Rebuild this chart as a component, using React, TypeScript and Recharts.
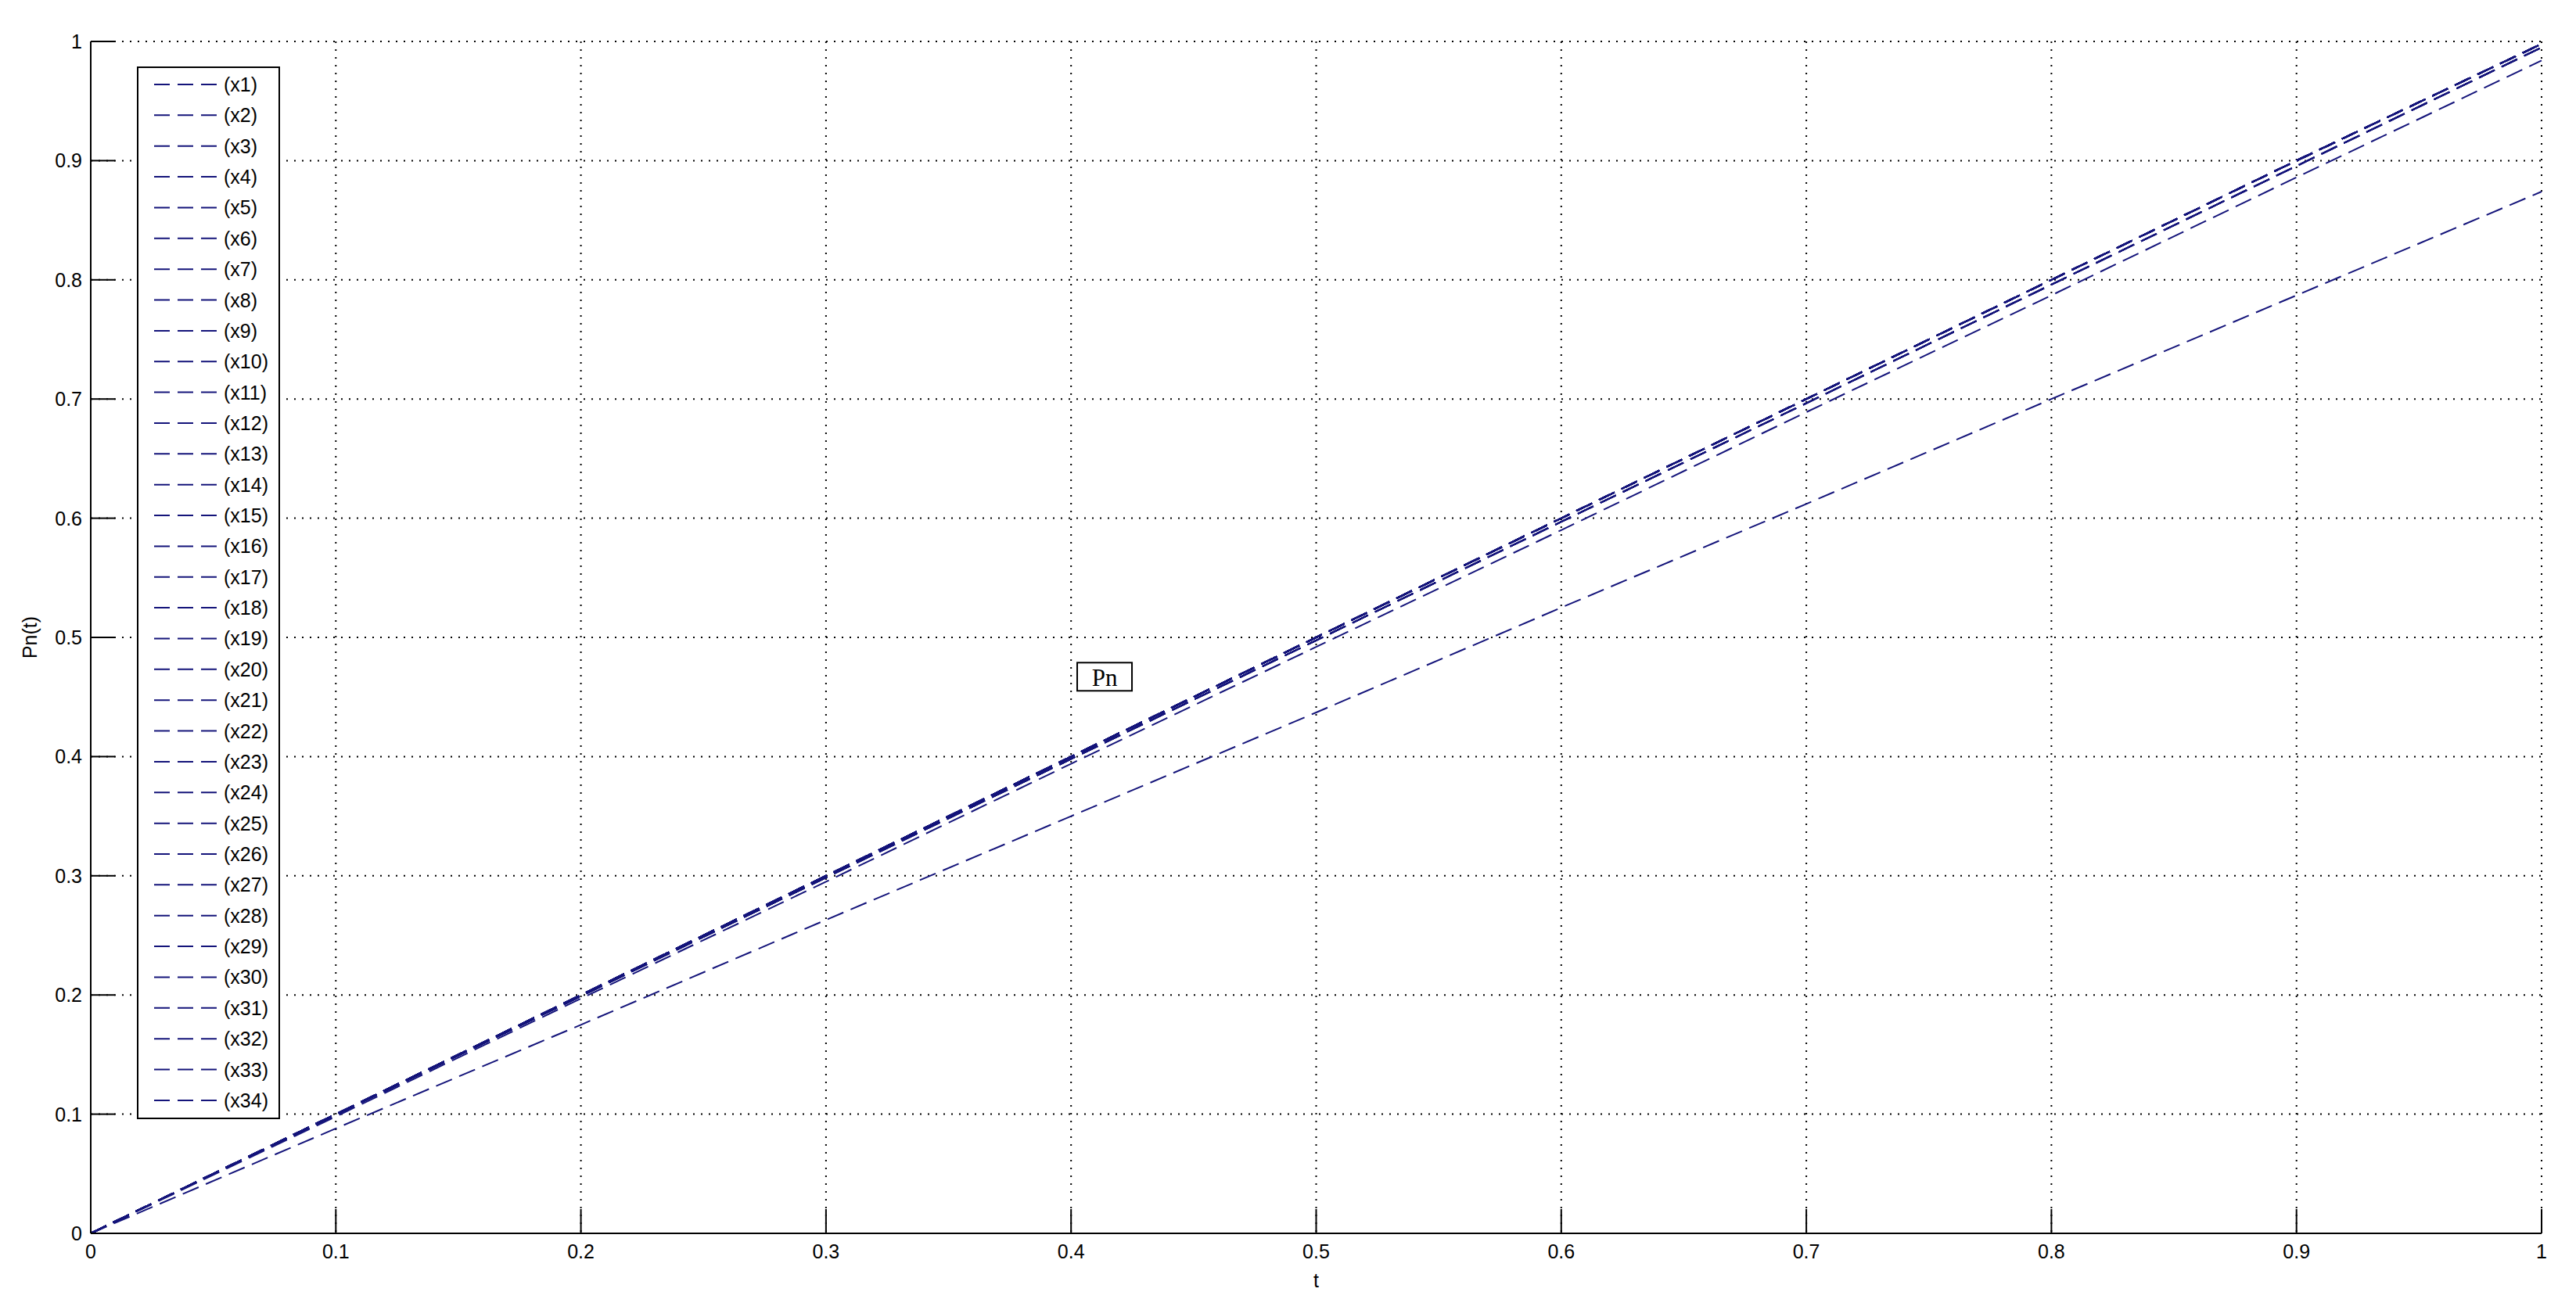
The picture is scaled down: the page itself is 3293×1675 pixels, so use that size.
import { LineChart, Line, XAxis, YAxis, CartesianGrid, Legend, ReferenceDot } from 'recharts';

// sample times and the four distinct Pn(t) curves
const tValues = [0, 0.1, 0.2, 0.3, 0.4, 0.5, 0.6, 0.7, 0.8, 0.9, 1];
const upperPn = [0, 0.1, 0.2, 0.3, 0.4, 0.5, 0.6, 0.7, 0.8, 0.9, 0.998];
const nearPn = [0, 0.0995, 0.199, 0.2985, 0.398, 0.4975, 0.597, 0.6965, 0.796, 0.8955, 0.995];
const midPn = [0, 0.098, 0.197, 0.295, 0.394, 0.492, 0.59, 0.689, 0.787, 0.886, 0.984];
const lowPn = [0, 0.088, 0.175, 0.263, 0.35, 0.437, 0.525, 0.612, 0.7, 0.787, 0.874];

// which curve each legend entry (x1..x34) follows
const seriesCurve = [
  'upper', 'upper', 'near', 'upper', 'upper', 'upper', 'near', 'upper', 'upper', 'upper',
  'upper', 'near', 'upper', 'upper', 'upper', 'upper', 'near', 'upper', 'upper', 'upper',
  'upper', 'upper', 'near', 'upper', 'upper', 'upper', 'upper', 'upper', 'near', 'upper',
  'upper', 'mid', 'upper', 'low',
];

const xTicks = [0, 0.1, 0.2, 0.3, 0.4, 0.5, 0.6, 0.7, 0.8, 0.9, 1];
const yTicks = [0, 0.1, 0.2, 0.3, 0.4, 0.5, 0.6, 0.7, 0.8, 0.9, 1];

const annotation = { t: 0.4025, y: 0.467, text: 'Pn' };

const curves: Record<string, number[]> = { upper: upperPn, near: nearPn, mid: midPn, low: lowPn };
const seriesNames = seriesCurve.map((_, i) => `x${i + 1}`);

const rows = tValues.map((t, i) => {
  const row: Record<string, number> = { t };
  seriesCurve.forEach((c, s) => {
    row[seriesNames[s]] = curves[c][i];
  });
  return row;
});

const LINE_COLOR = '#14147a';
const FONT = '"Liberation Sans", Arial, sans-serif';

const XTick = ({ x, y, payload }: any) => (
  <g>
    <line x1={x} x2={x} y1={y} y2={y - 31} stroke='#000' strokeWidth={2} />
    <text x={x} y={y + 23} textAnchor='middle' dominantBaseline='central' fontSize={25} fontFamily={FONT} fill='#000'>
      {String(payload.value)}
    </text>
  </g>
);

const YTick = ({ x, y, payload }: any) => (
  <g>
    <line x1={x} x2={x + 31} y1={y} y2={y} stroke='#000' strokeWidth={2} />
    <text x={x - 11} y={y} textAnchor='end' dominantBaseline='central' fontSize={25} fontFamily={FONT} fill='#000'>
      {String(payload.value)}
    </text>
  </g>
);

const LegendBox = ({ payload }: any) => {
  // keep the plotting order x1..x34, not the alphabetical one
  const items = [...(payload || [])].sort(
    (a: any, b: any) => seriesNames.indexOf(a.value) - seriesNames.indexOf(b.value)
  );
  return (
    <svg width={183} height={1346} style={{ display: 'block' }}>
      <rect x={1} y={1} width={181} height={1344} fill='#fff' stroke='#000' strokeWidth={2} />
      {items.map((item: any, i: number) => {
        const cy = 23 + i * 39.36;
        return (
          <g key={i}>
            <line x1={22} x2={102} y1={cy} y2={cy} stroke={LINE_COLOR} strokeWidth={2} strokeDasharray='20 10' />
            <text x={111} y={cy} dominantBaseline='central' fontSize={25} fontFamily={FONT} fill='#000'>
              {`(${item.value})`}
            </text>
          </g>
        );
      })}
    </svg>
  );
};

const PnLabel = ({ cx, cy }: any) => (
  <g>
    <rect x={cx} y={cy - 18} width={70} height={36} fill='#fff' stroke='#000' strokeWidth={2} />
    <text x={cx + 35} y={cy + 1} textAnchor='middle' dominantBaseline='central' fontSize={31} fontFamily='"Liberation Serif", "Times New Roman", serif' fill='#000'>
      {annotation.text}
    </text>
  </g>
);

const App = () => {
  return (
    <div style={{ width: 3277, height: 1659, background: '#fff' }}>
      <LineChart width={3277} height={1659} data={rows} margin={{ top: 45, right: 36, bottom: 60, left: 48 }}>
        <CartesianGrid stroke='#000' strokeWidth={2} strokeDasharray='2 8' />
        <XAxis
          dataKey='t'
          type='number'
          domain={[0, 1]}
          ticks={xTicks}
          interval={0}
          height={30}
          tickSize={0}
          tickMargin={0}
          tickLine={false}
          axisLine={{ stroke: '#000', strokeWidth: 2 }}
          tick={<XTick />}
          label={{
            value: 't',
            content: ({ viewBox }: any) => (
              <text x={viewBox.x + viewBox.width / 2} y={viewBox.y + 60} textAnchor='middle' dominantBaseline='central' fontSize={25} fontFamily={FONT} fill='#000'>
                t
              </text>
            ),
          }}
        />
        <YAxis
          type='number'
          domain={[0, 1]}
          ticks={yTicks}
          interval={0}
          width={60}
          tickSize={0}
          tickMargin={0}
          tickLine={false}
          axisLine={{ stroke: '#000', strokeWidth: 2 }}
          tick={<YTick />}
          label={{
            value: 'Pn(t)',
            content: ({ viewBox }: any) => {
              const x = viewBox.x - 18;
              const y = viewBox.y + viewBox.height / 2;
              return (
                <text x={x} y={y} transform={`rotate(-90 ${x} ${y})`} textAnchor='middle' dominantBaseline='central' fontSize={25} fontFamily={FONT} fill='#000'>
                  Pn(t)
                </text>
              );
            },
          }}
        />
        <Legend
          layout='vertical'
          align='center'
          verticalAlign='middle'
          content={<LegendBox />}
          wrapperStyle={{ position: 'absolute', left: 167, top: 77, right: 'auto', bottom: 'auto', width: 183, height: 1346, margin: 0 }}
        />
        {seriesNames.map((name) => (
          <Line
            key={name}
            type='linear'
            dataKey={name}
            name={name}
            stroke={LINE_COLOR}
            strokeWidth={2}
            strokeDasharray='22 10'
            dot={false}
            activeDot={false}
            isAnimationActive={false}
          />
        ))}
        <ReferenceDot x={annotation.t} y={annotation.y} r={0} shape={<PnLabel />} />
      </LineChart>
    </div>
  );
};

export default App;
